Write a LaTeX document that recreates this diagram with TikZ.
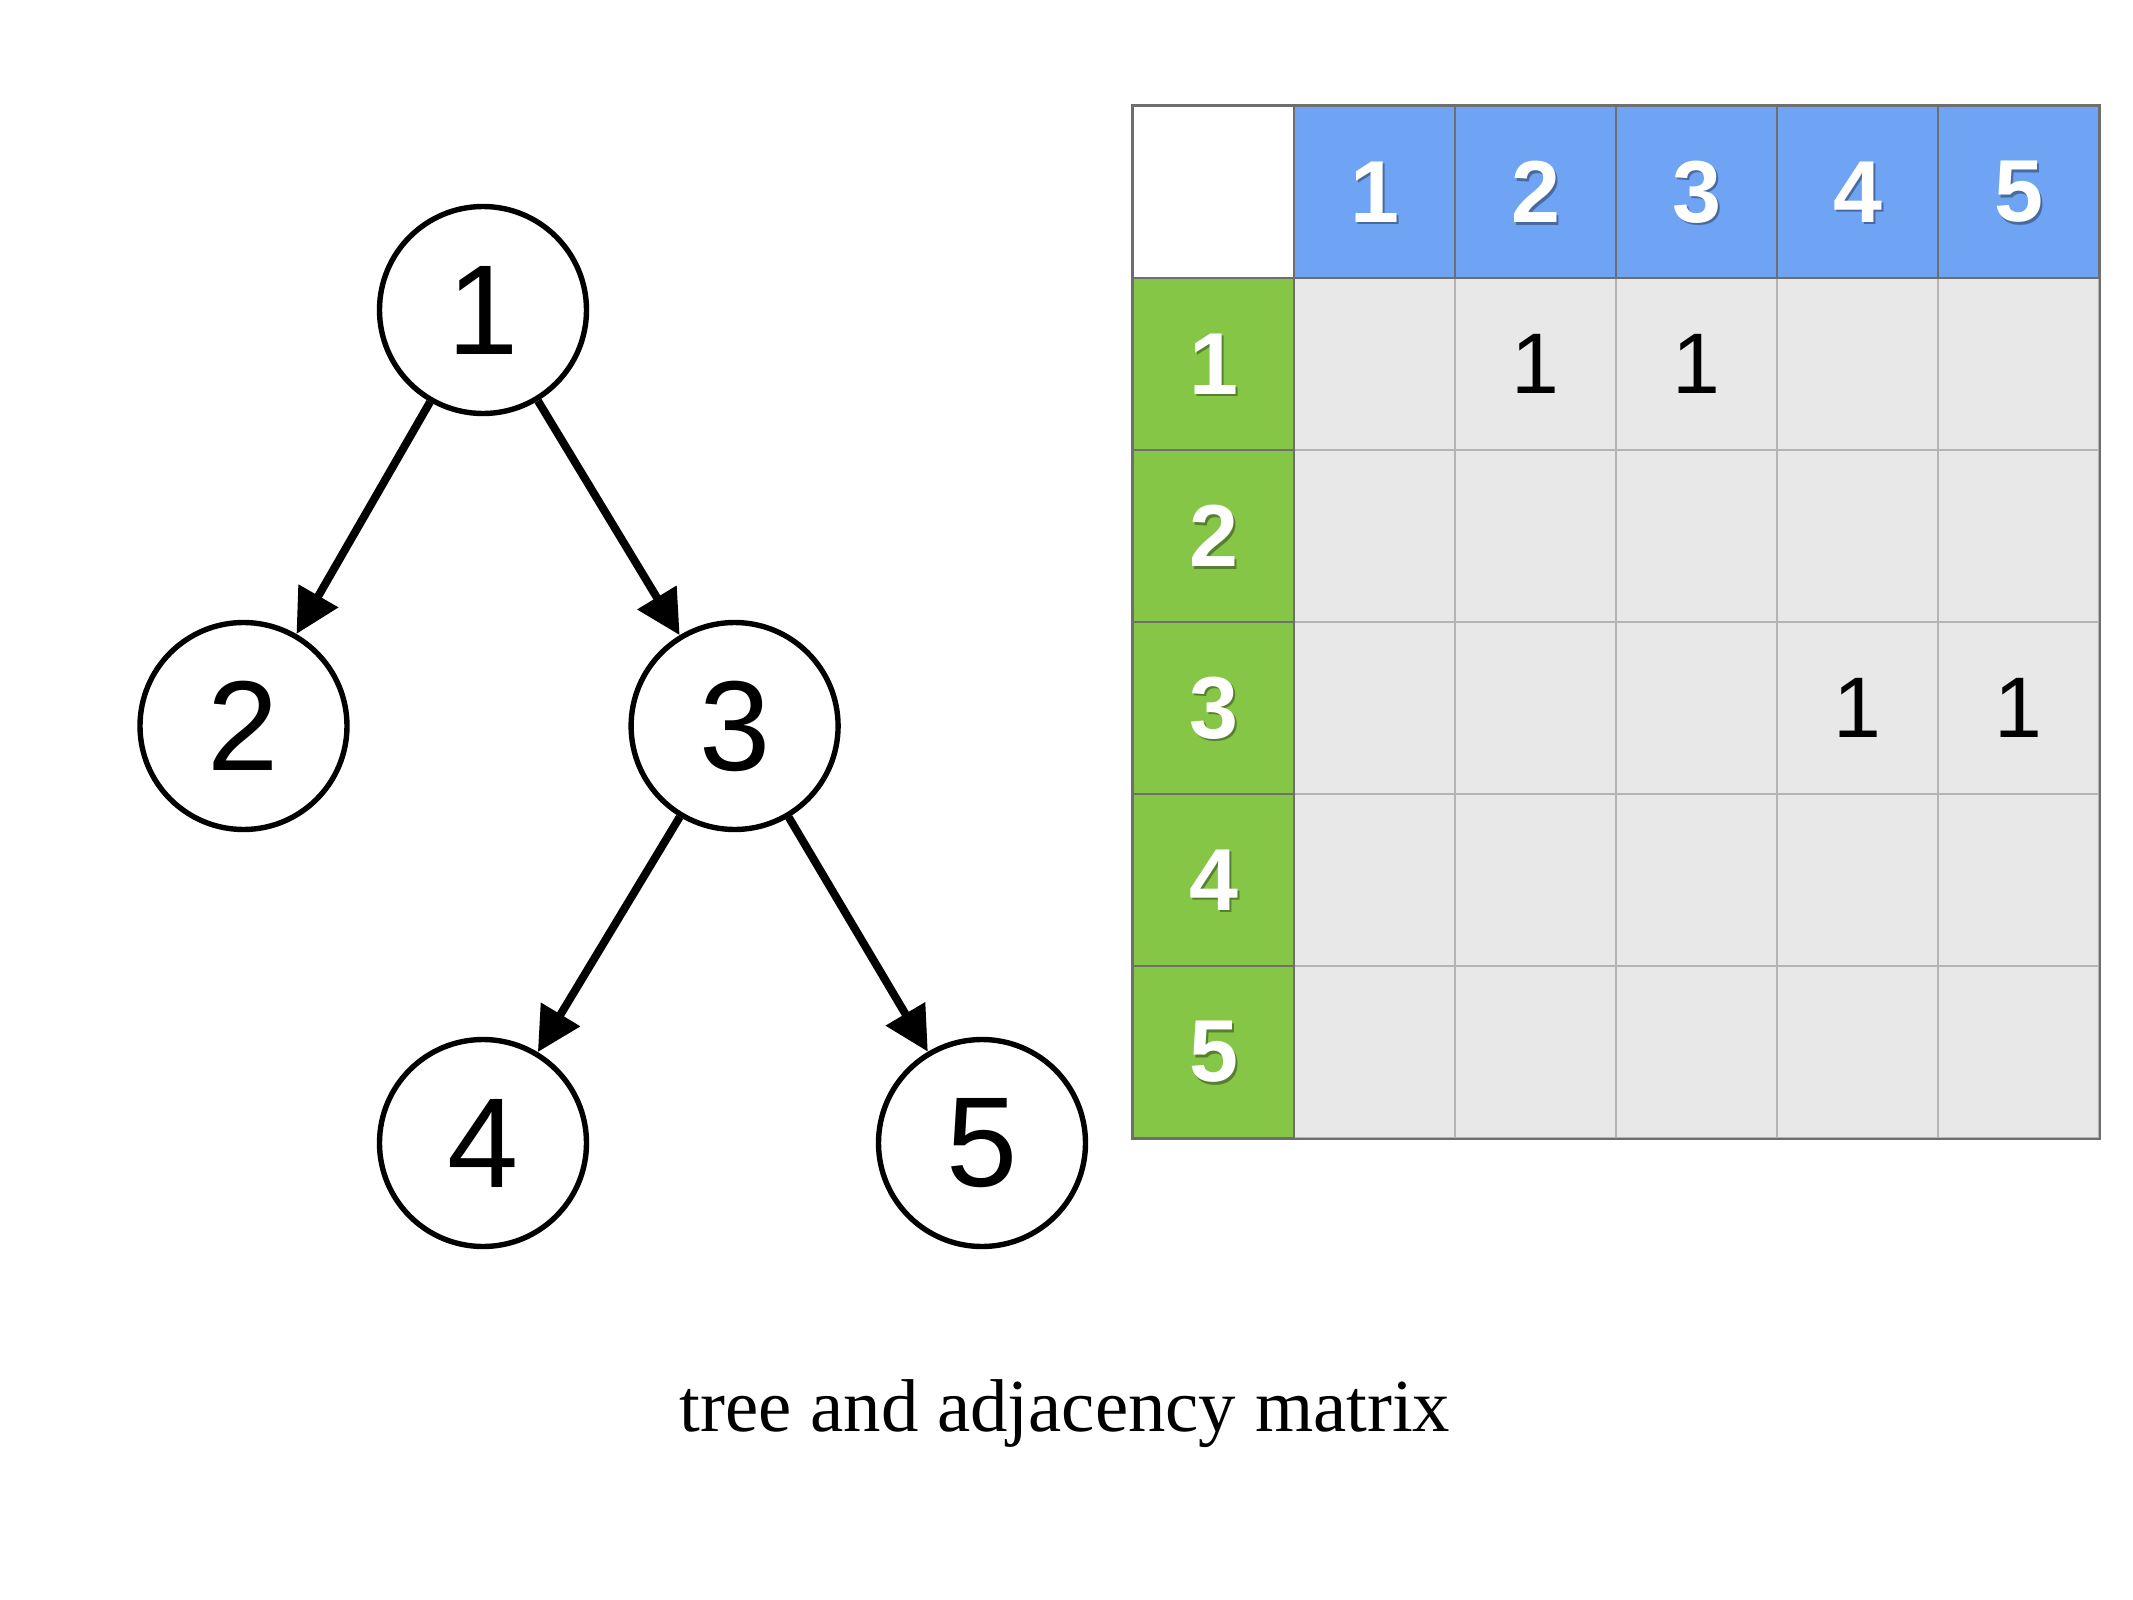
\documentclass[tikz,border=0pt]{standalone}
\usepackage{fontspec}
\setmainfont{Liberation Serif}
\newfontfamily\hsans{Liberation Sans}
\usetikzlibrary{arrows.meta}
\definecolor{hblue}{HTML}{6FA4F5}
\definecolor{hgreen}{HTML}{85C646}
\definecolor{cellgray}{HTML}{E8E8E8}
\definecolor{gridlight}{HTML}{B4B4B4}
\definecolor{griddark}{HTML}{6E6E6E}
\tikzset{
  treenode/.style={circle, draw=black, line width=2.7pt, minimum size=103.5pt, inner sep=0pt, fill=white,
    font=\hsans\fontsize{64}{64}\selectfont},
  edgearrow/.style={line width=4pt, -{Triangle[length=22pt,width=22pt]}},
  bodycell/.style={rectangle, draw=gridlight, line width=1pt, fill=cellgray, minimum width=80.5pt, minimum height=86pt, inner sep=0pt},
  headcell/.style={rectangle, draw=griddark, line width=1pt, minimum width=80.5pt, minimum height=86pt, inner sep=0pt},
  headtxt/.style={text=white, inner sep=0pt, font=\hsans\bfseries\fontsize{44}{44}\selectfont},
  shadowtxt/.style={text=black, text opacity=0.35, inner sep=0pt, font=\hsans\bfseries\fontsize{44}{44}\selectfont},
  entry/.style={inner sep=0pt, font=\hsans\fontsize{43}{43}\selectfont},
  caption/.style={inner sep=0pt, anchor=base, font=\fontsize{37.4}{40}\selectfont}
}
\begin{document}
\begin{tikzpicture}[x=0.5pt, y=-0.5pt]
\useasboundingbox[fill=white] (0,0) rectangle (2133,1600);
% tree
\node[treenode] (n1) at (483,310) {1};
\node[treenode] (n2) at (243.5,726) {2};
\node[treenode] (n3) at (734.6,726) {3};
\node[treenode] (n4) at (483,1143) {4};
\node[treenode] (n5) at (982,1143) {5};
\draw[edgearrow] (n1) -- (n2);
\draw[edgearrow] (n1) -- (n3);
\draw[edgearrow] (n3) -- (n4);
\draw[edgearrow] (n3) -- (n5);
% matrix body cells
\foreach \r in {1,...,5}{
  \foreach \c in {1,...,5}{
    \node[bodycell] (cell-\r-\c) at ({1133+161*\c+80.5},{106+172*\r+86}) {};
  }
}
% corner cell
\node[headcell, fill=white] (corner) at (1213.5,192) {};
% header cells
\foreach \c in {1,...,5}{
  \node[headcell, fill=hblue] (col-\c) at ({1133+161*\c+80.5},192) {};
  \node[shadowtxt] (colsh-\c) at ({1133+161*\c+80.5+2.5},{192+2.5}) {\c};
  \node[headtxt] (coltxt-\c) at ({1133+161*\c+80.5},192) {\c};
}
\foreach \r in {1,...,5}{
  \node[headcell, fill=hgreen] (row-\r) at (1213.5,{106+172*\r+86}) {};
  \node[shadowtxt] (rowsh-\r) at ({1213.5+2.5},{106+172*\r+86+2.5}) {\r};
  \node[headtxt] (rowtxt-\r) at (1213.5,{106+172*\r+86}) {\r};
}
% outer border
\draw[griddark, line width=1pt] (corner.north west) rectangle (cell-5-5.south east);
% entries
\node[entry] (e12) at (cell-1-2.center) {1};
\node[entry] (e13) at (cell-1-3.center) {1};
\node[entry] (e34) at (cell-3-4.center) {1};
\node[entry] (e35) at (cell-3-5.center) {1};
% caption
\node[caption] (cap) at (1065,1431) {tree and adjacency matrix};
\end{tikzpicture}
\end{document}
